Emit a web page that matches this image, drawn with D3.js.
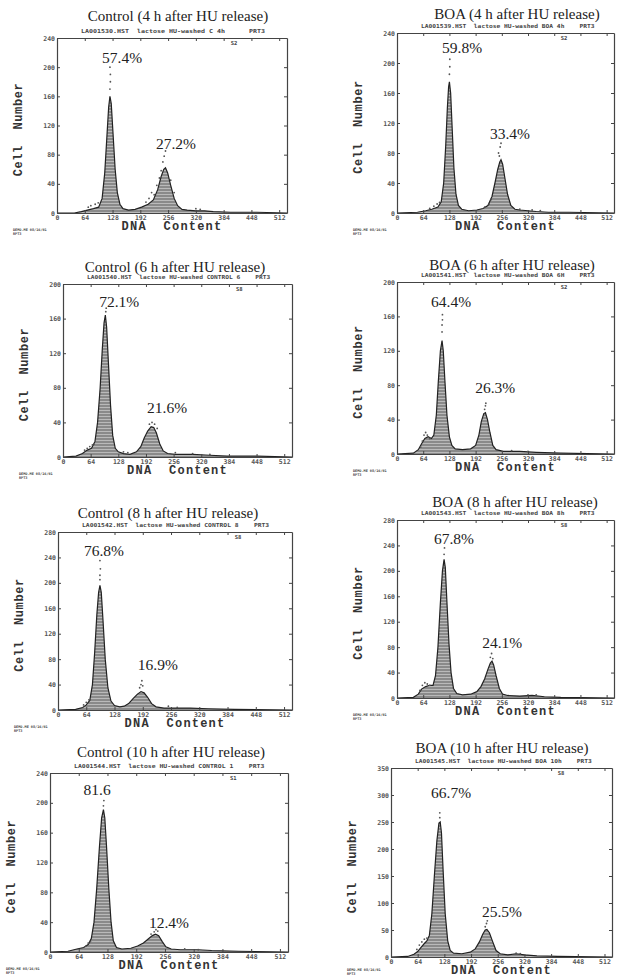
<!DOCTYPE html>
<html>
<head>
<meta charset="utf-8">
<script src="https://cdn.jsdelivr.net/npm/d3@7"></script>
<style>
  html, body { margin: 0; padding: 0; background: #fff; }
  svg { display: block; }
  .title, .pct { font-family: "Liberation Serif", "DejaVu Serif", serif; fill: #222; }
  .axlab { font-family: "Liberation Mono", "DejaVu Sans Mono", monospace; font-weight: bold; fill: #333; }
  .tick text { font-family: "DejaVu Sans Mono", monospace; font-weight: bold; font-size: 6.5px; fill: #555; }
  .tick line, .domain { stroke: #444; }
  .tiny { font-family: "DejaVu Sans Mono", monospace; font-weight: bold; fill: #444; }
</style>
</head>
<body>
<div id="chart"></div>
<script>
// DNA channel ticks shared by every panel
const xTicks = [0, 64, 128, 192, 256, 320, 384, 448, 512];

const titles = [
  'Control (4 h after HU release)', 'BOA (4 h after HU release)',
  'Control (6 h after HU release)', 'BOA (6 h after HU release)',
  'Control (8 h after HU release)', 'BOA (8 h after HU release)',
  'Control (10 h after HU release)', 'BOA (10 h after HU release)'
];

const headers = [
  'LA001530.HST  lactose HU-washed C 4h      PRT3',
  'LA001539.HST  lactose HU-washed BOA 4h    PRT3',
  'LA001540.HST  lactose HU-washed CONTROL 6    PRT3',
  'LA001541.HST  lactose HU-washed BOA 6H    PRT3',
  'LA001542.HST  lactose HU-washed CONTROL 8    PRT3',
  'LA001543.HST  lactose HU-washed BOA 8h    PRT3',
  'LA001544.HST  lactose HU-washed CONTROL 1    PRT3',
  'LA001545.HST  lactose HU-washed BOA 10h    PRT3'
];

const markers = ['S2', 'S2', 'S8', 'S2', 'S8', 'S8', 'S1', 'S8'];
const yMax = [240, 240, 200, 200, 280, 280, 240, 350];
const yStep = [40, 40, 40, 40, 40, 40, 40, 50];

const g1Labels = ['57.4%', '59.8%', '72.1%', '64.4%', '76.8%', '67.8%', '81.6', '66.7%'];
const g1LabelAt = [[150, 206], [159, 213], [130, 173], [132, 171], [104, 242], [139, 242], [105, 210], [144, 294]];
const g2Labels = ['27.2%', '33.4%', '21.6%', '26.3%', '16.9%', '24.1%', '12.4%', '25.5%'];
const g2LabelAt = [[274, 88], [276, 99], [241, 51], [240, 71], [226, 63], [257, 79], [265, 32], [266, 74]];

// histogram outlines, [channel, count]
const histC4 = [[0,0],[40,0],[56,2],[70,4],[84,6],[96,8],[104,20],[110,55],[115,105],[119,145],[122,160],[125,150],[129,110],[134,60],[139,28],[145,12],[152,6],[165,4],[180,5],[195,8],[210,12],[222,18],[232,32],[240,50],[246,60],[250,62],[255,55],[262,38],[270,20],[278,10],[288,5],[300,4],[320,3],[340,3],[360,2],[400,1],[460,1],[530,0]];
const histB4 = [[0,0],[50,1],[70,3],[85,5],[100,8],[108,15],[114,40],[119,90],[123,140],[126,168],[128,175],[131,160],[135,110],[139,60],[144,25],[150,10],[158,5],[175,3],[195,4],[210,6],[222,10],[232,22],[240,42],[246,58],[251,68],[254,71],[258,65],[264,45],[270,25],[278,10],[288,5],[300,4],[320,3],[340,2],[370,1],[420,1],[530,0]];
const histC6 = [[0,0],[30,1],[45,4],[56,8],[66,10],[74,18],[80,40],[86,80],[91,125],[95,155],[98,164],[101,150],[105,110],[110,60],[115,25],[121,10],[128,6],[140,4],[155,3],[170,6],[180,12],[188,22],[196,30],[204,35],[210,34],[216,28],[224,15],[232,7],[242,4],[260,3],[300,3],[340,2],[380,1],[450,1],[530,0]];
const histB6 = [[0,0],[40,1],[52,5],[60,12],[68,18],[76,20],[84,18],[90,22],[96,45],[101,85],[106,120],[110,132],[113,120],[117,85],[122,45],[128,20],[134,10],[142,6],[160,5],[180,6],[192,10],[200,22],[206,38],[212,47],[216,48],[221,40],[227,25],[234,10],[242,5],[260,3],[300,3],[340,2],[400,1],[530,0]];
const histC8 = [[0,0],[40,1],[56,4],[64,8],[72,15],[78,40],[83,90],[88,150],[92,185],[95,196],[98,185],[102,140],[107,80],[113,35],[120,14],[128,7],[140,5],[150,6],[160,10],[170,18],[180,25],[188,29],[195,27],[203,20],[212,10],[222,5],[240,3],[260,3],[300,3],[340,2],[400,1],[530,0]];
const histB8 = [[0,0],[40,1],[52,6],[60,14],[70,18],[80,20],[88,20],[94,35],[100,80],[106,150],[111,200],[115,218],[118,205],[122,150],[127,85],[132,40],[138,15],[146,7],[160,5],[180,6],[195,10],[205,18],[214,30],[222,45],[228,55],[232,58],[236,52],[242,35],[250,15],[258,6],[270,4],[300,3],[330,4],[360,2],[400,1],[530,0]];
const histC10 = [[0,0],[40,1],[60,4],[75,6],[85,10],[92,18],[98,40],[104,85],[110,140],[115,180],[119,191],[122,180],[126,140],[131,85],[136,40],[141,15],[148,6],[160,4],[180,5],[195,8],[208,12],[220,18],[228,22],[235,24],[242,22],[250,14],[258,7],[270,4],[290,3],[330,3],[360,2],[420,1],[530,0]];
const histB10 = [[0,0],[40,1],[55,5],[64,10],[72,18],[80,25],[86,30],[92,40],[98,80],[104,150],[110,215],[115,248],[118,250],[121,230],[125,160],[130,80],[136,30],[142,12],[150,7],[170,6],[190,9],[202,15],[212,28],[220,42],[226,50],[230,51],[236,45],[244,28],[252,12],[262,6],[280,4],[300,6],[320,4],[350,2],[400,1],[530,0]];

// raw events drawn as loose dots
const dotsC4 = [[122,170],[123,180],[123,190],[122,200],[72,8],[78,10],[88,12],[95,14],[205,15],[212,20],[218,28],[224,25],[230,38],[236,48],[240,58],[244,70],[247,78],[250,85],[262,45],[270,28],[320,6],[330,5]];
const dotsB4 = [[128,185],[129,195],[129,205],[80,6],[90,9],[98,12],[104,14],[250,76],[248,80],[252,88],[254,93],[215,8],[225,12],[230,18],[300,5],[330,4],[350,3]];
const dotsC6 = [[99,168],[100,172],[50,8],[56,10],[62,12],[68,14],[72,15],[200,38],[206,40],[212,38],[218,33],[140,6],[150,5],[260,5],[300,4],[340,3]];
const dotsB6 = [[110,142],[110,150],[111,156],[111,162],[58,8],[62,15],[66,22],[70,25],[74,22],[80,18],[214,52],[216,56],[217,59],[280,4],[320,3]];
const dotsC8 = [[95,205],[95,212],[96,222],[95,235],[58,8],[64,12],[70,16],[185,35],[188,40],[190,46],[192,38],[250,6],[270,4]];
const dotsB8 = [[115,226],[116,236],[56,12],[62,20],[68,24],[74,22],[80,20],[228,64],[231,70],[234,62],[320,5],[340,5]];
const dotsC10 = [[119,196],[120,203],[80,8],[85,12],[90,14],[225,24],[232,27],[236,30],[240,28],[300,4],[330,3]];
const dotsB10 = [[117,258],[117,267],[62,14],[68,22],[74,28],[80,33],[86,35],[226,56],[229,62],[231,67],[300,7],[310,6]];

const histograms = [histC4, histB4, histC6, histB6, histC8, histB8, histC10, histB10];
const eventDots = [dotsC4, dotsB4, dotsC6, dotsB6, dotsC8, dotsB8, dotsC10, dotsB10];

// pixel layout of each plot frame
const frames = [
  { x0: 57, x1: 287, top: 38, bottom: 213, titleX: 178, titleY: 21 },
  { x0: 397, x1: 614, top: 33, bottom: 213, titleX: 517, titleY: 19 },
  { x0: 63, x1: 292, top: 284, bottom: 457, titleX: 175, titleY: 272 },
  { x0: 397, x1: 614, top: 282, bottom: 454, titleX: 512, titleY: 270 },
  { x0: 58, x1: 292, top: 532, bottom: 710, titleX: 168, titleY: 518 },
  { x0: 397, x1: 614, top: 520, bottom: 698, titleX: 515, titleY: 507 },
  { x0: 50, x1: 288, top: 773, bottom: 952, titleX: 171, titleY: 757 },
  { x0: 391, x1: 612, top: 768, bottom: 957, titleX: 502, titleY: 753 }
];

const W = 617, H = 978, xDomainMax = 530;

const svg = d3.select('#chart').append('svg')
  .attr('width', W)
  .attr('height', H);

const defs = svg.append('defs');
const pat = defs.append('pattern')
  .attr('id', 'hatch')
  .attr('width', 4)
  .attr('height', 3)
  .attr('patternUnits', 'userSpaceOnUse');
pat.append('rect').attr('width', 4).attr('height', 3).attr('fill', '#8a8a8a');
pat.append('rect').attr('y', 2).attr('width', 4).attr('height', 1).attr('fill', '#bababa');

function drawPanel(i) {
  const f = frames[i],
    g = svg.append('g').attr('class', 'panel-' + i);

  const x = d3.scaleLinear().domain([0, xDomainMax]).range([f.x0, f.x1]);
  const y = d3.scaleLinear().domain([0, yMax[i]]).range([f.bottom, f.top]);
  const yTicks = d3.range(0, yMax[i] + 1, yStep[i]);

  // histogram body
  const area = d3.area()
    .x(d => x(d[0]))
    .y0(y(0))
    .y1(d => y(d[1]));
  const line = d3.line()
    .x(d => x(d[0]))
    .y(d => y(d[1]));

  g.append('path')
    .datum(histograms[i])
    .attr('d', area)
    .attr('fill', 'url(#hatch)');

  g.append('path')
    .datum(histograms[i])
    .attr('d', line)
    .attr('fill', 'none')
    .attr('stroke', '#222')
    .attr('stroke-width', 1.2);

  g.selectAll('circle.ev')
    .data(eventDots[i])
    .join('circle')
    .attr('class', 'ev')
    .attr('cx', d => x(d[0]))
    .attr('cy', d => y(d[1]))
    .attr('r', 0.9)
    .attr('fill', '#555');

  // axes on all four sides
  g.append('g')
    .attr('transform', `translate(0,${f.bottom})`)
    .call(d3.axisBottom(x).tickValues(xTicks).tickSize(-3).tickSizeOuter(0).tickPadding(2));

  g.append('g')
    .attr('transform', `translate(0,${f.top})`)
    .call(d3.axisTop(x).tickValues(xTicks).tickSize(-3).tickSizeOuter(0).tickFormat(''));

  g.append('g')
    .attr('transform', `translate(${f.x0},0)`)
    .call(d3.axisLeft(y).tickValues(yTicks).tickSize(-3).tickSizeOuter(0).tickPadding(2));

  g.append('g')
    .attr('transform', `translate(${f.x1},0)`)
    .call(d3.axisRight(y).tickValues(yTicks).tickSize(-3).tickSizeOuter(0).tickFormat(''));

  g.selectAll('.domain').attr('stroke-width', 1.2);

  // texts
  g.append('text')
    .attr('class', 'title')
    .attr('x', f.titleX)
    .attr('y', f.titleY)
    .attr('text-anchor', 'middle')
    .style('font-size', '15px')
    .text(titles[i]);

  g.append('text')
    .attr('class', 'tiny')
    .attr('x', f.x0 + 24)
    .attr('y', f.top - 5)
    .attr('textLength', (f.x1 - f.x0) * 0.8)
    .attr('lengthAdjust', 'spacingAndGlyphs')
    .style('font-size', '5.5px')
    .style('white-space', 'pre')
    .text(headers[i]);

  g.append('text')
    .attr('class', 'tiny')
    .attr('x', x(408))
    .attr('y', f.top + 7)
    .attr('text-anchor', 'middle')
    .style('font-size', '5.5px')
    .text(markers[i]);

  g.append('text')
    .attr('class', 'pct')
    .attr('x', x(g1LabelAt[i][0]))
    .attr('y', y(g1LabelAt[i][1]))
    .attr('text-anchor', 'middle')
    .style('font-size', '15.5px')
    .text(g1Labels[i]);

  g.append('text')
    .attr('class', 'pct')
    .attr('x', x(g2LabelAt[i][0]))
    .attr('y', y(g2LabelAt[i][1]))
    .attr('text-anchor', 'middle')
    .style('font-size', '15.5px')
    .text(g2Labels[i]);

  g.append('text')
    .attr('class', 'axlab')
    .attr('x', (f.x0 + f.x1) / 2)
    .attr('y', f.bottom + 17)
    .attr('text-anchor', 'middle')
    .style('font-size', '12px')
    .style('letter-spacing', '1.2px')
    .style('white-space', 'pre')
    .text('DNA  Content');

  g.append('text')
    .attr('class', 'axlab')
    .attr('transform', `translate(${f.x0 - 35},${(f.top + f.bottom) / 2 + 4}) rotate(-90)`)
    .attr('text-anchor', 'middle')
    .style('font-size', '12px')
    .style('letter-spacing', '0.6px')
    .style('white-space', 'pre')
    .text('Cell  Number');

  const footY = Math.min(f.bottom + 18, H - 7);
  const foot = g.append('text')
    .attr('class', 'tiny')
    .style('font-size', '3.5px')
    .attr('fill', '#555');
  foot.append('tspan').attr('x', f.x0 - 44).attr('y', footY).text('DEMO.ME  08/16/01');
  foot.append('tspan').attr('x', f.x0 - 44).attr('y', footY + 4).text('RPT3');
}

d3.range(frames.length).forEach(drawPanel);
</script>
</body>
</html>
